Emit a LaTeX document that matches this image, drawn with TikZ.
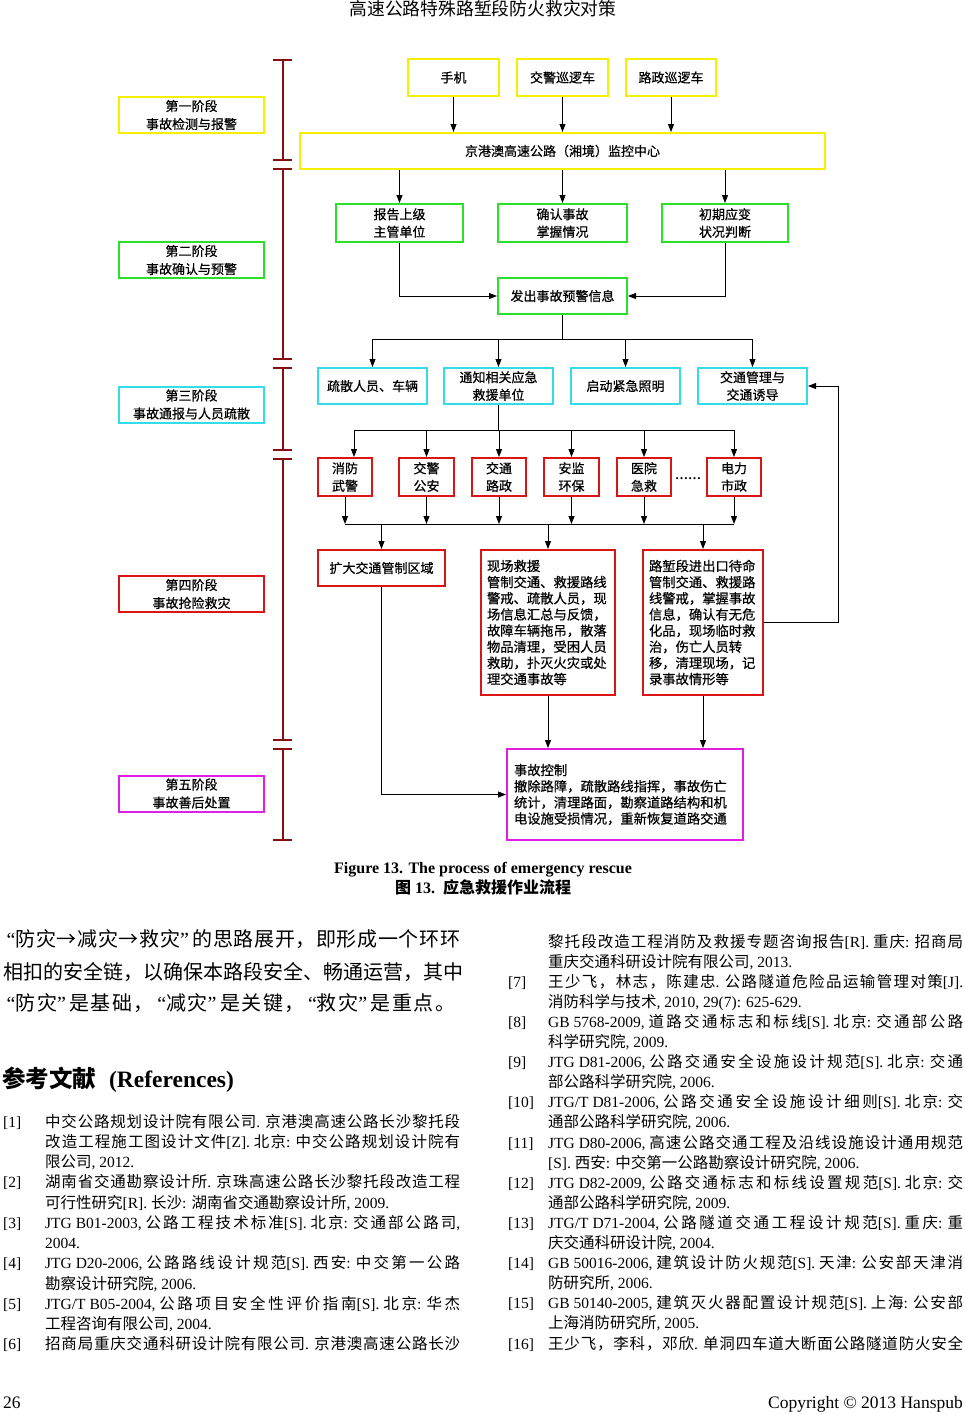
\documentclass[tikz,border=0pt]{standalone}
\usepackage{fontspec}
\setmainfont{Liberation Serif}
\newfontfamily\cjkA{Noto Sans CJK SC}
\newfontfamily\cjkB[FakeBold=0.6]{Noto Sans CJK SC}
\def\cjkfont{\cjkA}
\usetikzlibrary{arrows.meta}
\XeTeXinterchartokenstate=1
\newXeTeXintercharclass\CJKcls
\newcount\cjkc
\def\setcjkrange#1#2{\cjkc=#1\relax\loop\XeTeXcharclass\cjkc=\CJKcls\relax\ifnum\cjkc<#2\relax\advance\cjkc by 1\relax\repeat}
\setcjkrange{"4E00}{"9FFF}
\setcjkrange{"3000}{"303F}
\setcjkrange{"FF00}{"FFEF}
\XeTeXcharclass"2192=\CJKcls
\let\cjkglue\relax
\XeTeXinterchartoks 0 \CJKcls = {\cjkfont}
\XeTeXinterchartoks 4095 \CJKcls = {\cjkfont}
\XeTeXinterchartoks \CJKcls 0 = {\rmfamily}
\XeTeXinterchartoks \CJKcls 4095 = {\rmfamily}
\XeTeXinterchartoks \CJKcls \CJKcls = {\cjkglue}
\newcommand\jl[2]{\hbox to #1{\def\cjkglue{\hskip 0pt plus 1fil\relax}#2}}
\newcommand\oq{\makebox[0.62em][r]{“}}
\newcommand\cq{\makebox[0.62em][l]{”}}
\definecolor{yel}{RGB}{245,240,0}
\definecolor{grn}{RGB}{40,225,40}
\definecolor{cyn}{RGB}{50,220,235}
\definecolor{red1}{RGB}{220,20,20}
\definecolor{mag}{RGB}{225,30,225}
\definecolor{tlc}{RGB}{135,15,15}
\begin{document}
\begin{tikzpicture}[x=1pt,y=-1pt,
  bx/.style={draw,line width=2pt,inner sep=0pt,align=center,font=\let\cjkfont\cjkB\fontsize{13}{17.5}\selectfont},
  stg/.style={bx,minimum width=145pt,minimum height=36pt,font=\let\cjkfont\cjkB\fontsize{13}{18}\selectfont},
  lbx/.style={bx,align=left,inner xsep=6pt,inner ysep=0pt,font=\let\cjkfont\cjkB\fontsize{13.3}{16.15}\selectfont},
  arr/.style={-{Triangle[length=8pt,width=6pt]},line width=0.9pt},
  ln/.style={line width=0.9pt},
  tln/.style={draw=tlc,line width=1.3pt},
  reft/.style={anchor=base west,inner sep=0pt,font=\fontsize{15.5}{18}\selectfont},
  bodyt/.style={anchor=base west,inner sep=0pt,font=\fontsize{20}{24}\selectfont}]
\fill[white] (0,0) rectangle (965,1414);
\useasboundingbox (0,0) rectangle (965,1414);

% header
\node[anchor=base,inner sep=0pt,font=\fontsize{17.8}{20}\selectfont] (hdr) at (483,15) {高速公路特殊路堑段防火救灾对策};

% stage timeline
\foreach \a/\b in {60/160,169/359,368/450,459/740,749/840}{
  \draw[tln] (283,\a) -- (283,\b);
  \draw[tln] (273,\a) -- (292,\a);
  \draw[tln] (273,\b) -- (292,\b);
}

% stage boxes
\node[stg,draw=yel] (s1) at (191.5,115) {第一阶段\\事故检测与报警};
\node[stg,draw=grn] (s2) at (191.5,260) {第二阶段\\事故确认与预警};
\node[stg,draw=cyn] (s3) at (191.5,404.5) {第三阶段\\事故通报与人员疏散};
\node[stg,draw=red1] (s4) at (191.5,594) {第四阶段\\事故抢险救灾};
\node[stg,draw=mag] (s5) at (191.5,793.5) {第五阶段\\事故善后处置};

% phase 1
\node[bx,draw=yel,minimum width=91pt,minimum height=37pt] (sj) at (453.5,77.5) {手机};
\node[bx,draw=yel,minimum width=91pt,minimum height=37pt] (jx) at (562.5,77.5) {交警巡逻车};
\node[bx,draw=yel,minimum width=90pt,minimum height=37pt] (lx) at (671,77.5) {路政巡逻车};
\node[bx,draw=yel,minimum width=525pt,minimum height=36pt] (mc) at (562.5,151) {京港澳高速公路（湘境）监控中心};
\draw[arr] (sj.south) -- (sj.south |- mc.north);
\draw[arr] (jx.south) -- (jx.south |- mc.north);
\draw[arr] (lx.south) -- (lx.south |- mc.north);

% phase 2
\node[bx,draw=grn,minimum width=127pt,minimum height=38pt] (bg) at (399.5,223) {报告上级\\主管单位};
\node[bx,draw=grn,minimum width=129pt,minimum height=38pt] (qr) at (562.5,223) {确认事故\\掌握情况};
\node[bx,draw=grn,minimum width=126pt,minimum height=38pt] (cq) at (725,223) {初期应变\\状况判断};
\node[bx,draw=grn,minimum width=129pt,minimum height=36pt] (fc) at (562.5,296) {发出事故预警信息};
\draw[arr] (bg.north |- mc.south) -- (bg.north);
\draw[arr] (qr.north |- mc.south) -- (qr.north);
\draw[arr] (cq.north |- mc.south) -- (cq.north);
\draw[arr] (bg.south) |- (fc.west);
\draw[arr] (cq.south) |- (fc.east);

% phase 3
\node[bx,draw=cyn,minimum width=109pt,minimum height=36pt] (ss) at (372.5,386) {疏散人员、车辆};
\node[bx,draw=cyn,minimum width=109pt,minimum height=36pt] (tz) at (498.5,386) {通知相关应急\\救援单位};
\node[bx,draw=cyn,minimum width=109pt,minimum height=36pt] (qd) at (625.5,386) {启动紧急照明};
\node[bx,draw=cyn,minimum width=109pt,minimum height=36pt] (jt) at (752.5,386) {交通管理与\\交通诱导};
\coordinate (b1) at (562.5,339);
\draw[ln] (fc.south) -- (b1);
\draw[ln] (ss.north |- b1) -- (jt.north |- b1);
\foreach \n in {ss,tz,qd,jt}{\draw[arr] (\n.north |- b1) -- (\n.north);}

% units
\node[bx,draw=red1,minimum width=54pt,minimum height=38pt] (xf) at (345,477) {消防\\武警};
\node[bx,draw=red1,minimum width=55pt,minimum height=38pt] (jg) at (426.5,477) {交警\\公安};
\node[bx,draw=red1,minimum width=54pt,minimum height=38pt] (jtl) at (499,477) {交通\\路政};
\node[bx,draw=red1,minimum width=55pt,minimum height=38pt] (aj) at (571.5,477) {安监\\环保};
\node[bx,draw=red1,minimum width=54pt,minimum height=38pt] (yy) at (644,477) {医院\\急救};
\node[bx,draw=red1,minimum width=54pt,minimum height=38pt] (dl) at (734,477) {电力\\市政};
\node[inner sep=0pt,font=\bfseries\fontsize{13}{15}\selectfont] (dots) at (688,479) {……};
\coordinate (b2) at (498.5,430);
\coordinate (xfa) at ([xshift=9pt]xf.north);
\draw[ln] (tz.south) -- (b2);
\draw[ln] (xfa |- b2) -- (dl.north |- b2);
\draw[arr] (xfa |- b2) -- (xfa);
\foreach \n in {jg,jtl,aj,yy,dl}{\draw[arr] (\n.north |- b2) -- (\n.north);}
\coordinate (b3) at (548,524);
\foreach \n in {xf,jg,jtl,aj,yy,dl}{\draw[arr] (\n.south) -- (\n.south |- b3);}
\draw[ln] (xf.south |- b3) -- (dl.south |- b3);

% phase 4
\node[bx,draw=red1,minimum width=127pt,minimum height=36pt,align=left] (kd) at (381.5,568) {扩大交通管制区域};
\node[lbx,draw=red1,text width=122pt,minimum height=145pt] (xc) at (548,622.5) {现场救援\\管制交通、救援路线\\警戒、疏散人员，现\\场信息汇总与反馈，\\故障车辆拖吊，散落\\物品清理，受困人员\\救助，扑灭火灾或处\\理交通事故等};
\node[lbx,draw=red1,text width=108pt,minimum height=145pt] (lq) at (703,622.5) {路堑段进出口待命\\管制交通、救援路\\线警戒，掌握事故\\信息，确认有无危\\化品，现场临时救\\治，伤亡人员转\\移，清理现场，记\\录事故情形等};
\foreach \n in {kd,xc,lq}{\draw[arr] (\n.north |- b3) -- (\n.north);}
\draw[arr] (lq.east) -- ++(74,0) |- (jt.east);

% phase 5
\node[lbx,draw=mag,inner xsep=7pt,text width=222pt,minimum height=91pt] (sk) at (625,794.5) {事故控制\\撤除路障，疏散路线指挥，事故伤亡\\统计，清理路面，勘察道路结构和机\\电设施受损情况，重新恢复道路交通};
\draw[arr] (kd.south) |- (sk.west);
\draw[arr] (xc.south) -- (xc.south |- sk.north);
\draw[arr] (lq.south) -- (lq.south |- sk.north);

% captions
\node[anchor=base,inner sep=0pt,font=\bfseries\fontsize{16}{19}\selectfont] (cap1) at (483,873) {Figure 13. The process of emergency rescue};
\node[anchor=base,inner sep=0pt,font=\bfseries\fontsize{16}{19}\selectfont] (cap2) at (483,893) {图 13.\ \ 应急救援作业流程};

% body text
\node[bodyt] (p1) at (3,946.6) {\jl{457pt}{\oq 防灾→减灾→救灾\cq 的思路展开，即形成一个环环}};
\node[bodyt] (p2) at (3,979.6) {\jl{457pt}{相扣的安全链，以确保本路段安全、畅通运营，其中}};
\node[bodyt] (p3) at (3,1010.6) {\jl{452pt}{\oq 防灾\cq 是基础，\oq 减灾\cq 是关键，\oq 救灾\cq 是重点。}};

\node[anchor=base west,inner sep=0pt,font=\bfseries\fontsize{23.5}{28}\selectfont] (rh) at (2,1087) {参考文献\hspace{7pt} (References)};

% references left column
\node[reft] (n1) at (3,1127) {[1]};
\node[reft] (r1a) at (45,1127) {\jl{415pt}{中交公路规划设计院有限公司. 京港澳高速公路长沙黎托段}};
\node[reft] (r1b) at (45,1147.25) {\jl{415pt}{改造工程施工图设计文件[Z]. 北京: 中交公路规划设计院有}};
\node[reft] (r1c) at (45,1167.5) {限公司, 2012.};
\node[reft] (n2) at (3,1187.75) {[2]};
\node[reft] (r2a) at (45,1187.75) {\jl{415pt}{湖南省交通勘察设计所. 京珠高速公路长沙黎托段改造工程}};
\node[reft] (r2b) at (45,1208) {可行性研究[R]. 长沙: 湖南省交通勘察设计所, 2009.};
\node[reft] (n3) at (3,1228.25) {[3]};
\node[reft] (r3a) at (45,1228.25) {\jl{415pt}{JTG B01-2003, 公路工程技术标准[S]. 北京: 交通部公路司,}};
\node[reft] (r3b) at (45,1248.5) {2004.};
\node[reft] (n4) at (3,1268.75) {[4]};
\node[reft] (r4a) at (45,1268.75) {\jl{415pt}{JTG D20-2006, 公路路线设计规范[S]. 西安: 中交第一公路}};
\node[reft] (r4b) at (45,1289) {勘察设计研究院, 2006.};
\node[reft] (n5) at (3,1309.25) {[5]};
\node[reft] (r5a) at (45,1309.25) {\jl{415pt}{JTG/T B05-2004, 公路项目安全性评价指南[S]. 北京: 华杰}};
\node[reft] (r5b) at (45,1329.5) {工程咨询有限公司, 2004.};
\node[reft] (n6) at (3,1349.75) {[6]};
\node[reft] (r6a) at (45,1349.75) {\jl{415pt}{招商局重庆交通科研设计院有限公司. 京港澳高速公路长沙}};

% references right column
\node[reft] (r6b) at (548,947) {\jl{415pt}{黎托段改造工程消防及救援专题咨询报告[R]. 重庆: 招商局}};
\node[reft] (r6c) at (548,967.1) {重庆交通科研设计院有限公司, 2013.};
\node[reft] (n7) at (508,987.2) {[7]};
\node[reft] (r7a) at (548,987.2) {\jl{415pt}{王少飞，林志，陈建忠. 公路隧道危险品运输管理对策[J].}};
\node[reft] (r7b) at (548,1007.3) {消防科学与技术, 2010, 29(7): 625-629.};
\node[reft] (n8) at (508,1027.4) {[8]};
\node[reft] (r8a) at (548,1027.4) {\jl{415pt}{GB 5768-2009, 道路交通标志和标线[S]. 北京: 交通部公路}};
\node[reft] (r8b) at (548,1047.5) {科学研究院, 2009.};
\node[reft] (n9) at (508,1067.6) {[9]};
\node[reft] (r9a) at (548,1067.6) {\jl{415pt}{JTG D81-2006, 公路交通安全设施设计规范[S]. 北京: 交通}};
\node[reft] (r9b) at (548,1087.7) {部公路科学研究院, 2006.};
\node[reft] (n10) at (508,1107.8) {[10]};
\node[reft] (r10a) at (548,1107.8) {\jl{415pt}{JTG/T D81-2006, 公路交通安全设施设计细则[S]. 北京: 交}};
\node[reft] (r10b) at (548,1127.9) {通部公路科学研究院, 2006.};
\node[reft] (n11) at (508,1148) {[11]};
\node[reft] (r11a) at (548,1148) {\jl{415pt}{JTG D80-2006, 高速公路交通工程及沿线设施设计通用规范}};
\node[reft] (r11b) at (548,1168.1) {[S]. 西安: 中交第一公路勘察设计研究院, 2006.};
\node[reft] (n12) at (508,1188.2) {[12]};
\node[reft] (r12a) at (548,1188.2) {\jl{415pt}{JTG D82-2009, 公路交通标志和标线设置规范[S]. 北京: 交}};
\node[reft] (r12b) at (548,1208.3) {通部公路科学研究院, 2009.};
\node[reft] (n13) at (508,1228.4) {[13]};
\node[reft] (r13a) at (548,1228.4) {\jl{415pt}{JTG/T D71-2004, 公路隧道交通工程设计规范[S]. 重庆: 重}};
\node[reft] (r13b) at (548,1248.5) {庆交通科研设计院, 2004.};
\node[reft] (n14) at (508,1268.6) {[14]};
\node[reft] (r14a) at (548,1268.6) {\jl{415pt}{GB 50016-2006, 建筑设计防火规范[S]. 天津: 公安部天津消}};
\node[reft] (r14b) at (548,1288.7) {防研究所, 2006.};
\node[reft] (n15) at (508,1308.8) {[15]};
\node[reft] (r15a) at (548,1308.8) {\jl{415pt}{GB 50140-2005, 建筑灭火器配置设计规范[S]. 上海: 公安部}};
\node[reft] (r15b) at (548,1328.9) {上海消防研究所, 2005.};
\node[reft] (n16) at (508,1349) {[16]};
\node[reft] (r16a) at (548,1349) {\jl{415pt}{王少飞，李科，邓欣. 单洞四车道大断面公路隧道防火安全}};

% footer
\node[anchor=base west,inner sep=0pt,font=\fontsize{17.5}{20}\selectfont] (pg) at (3,1408) {26};
\node[anchor=base east,inner sep=0pt,font=\fontsize{17.5}{20}\selectfont] (cp) at (963,1408) {Copyright © 2013 Hanspub};
\end{tikzpicture}
\end{document}
